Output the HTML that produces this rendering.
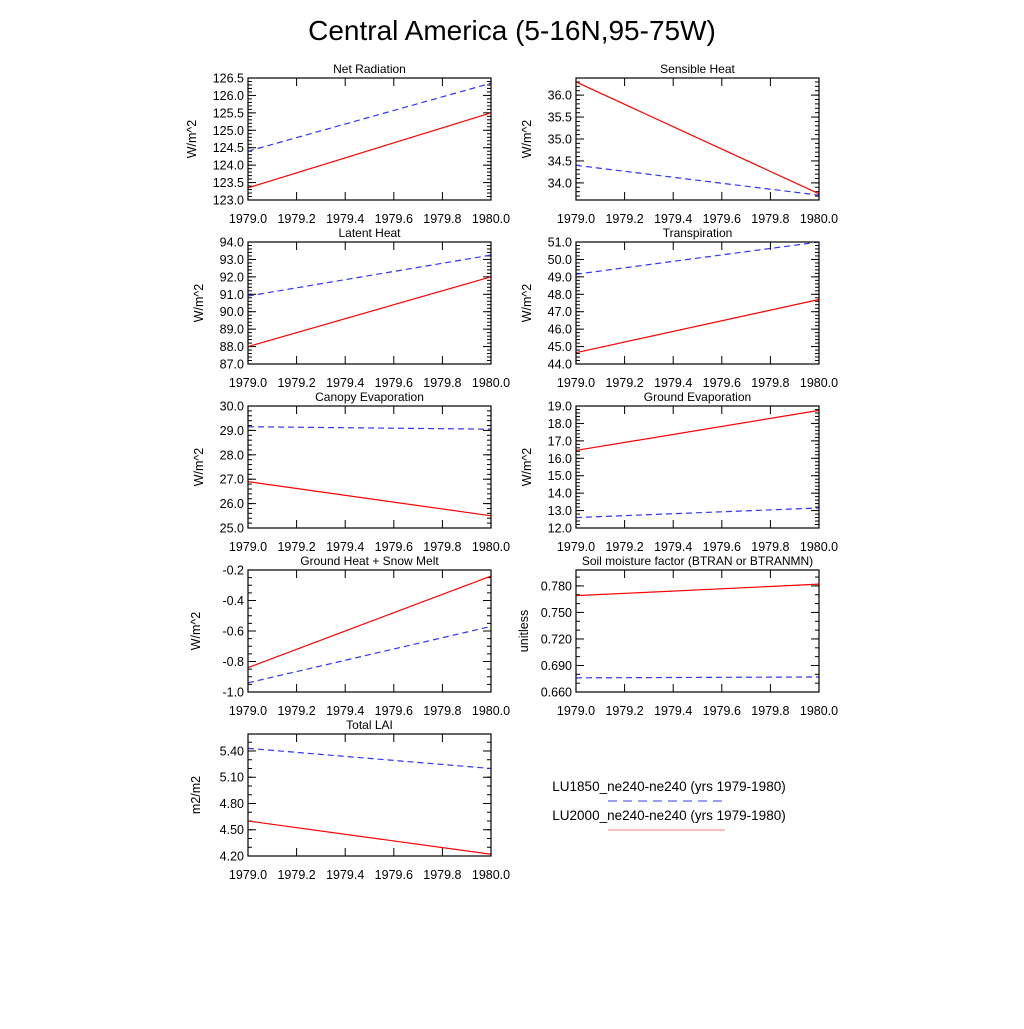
<!DOCTYPE html>
<html><head><meta charset="utf-8"><style>
body{margin:0;background:#fff}
svg{font-family:"Liberation Sans",sans-serif}
</style></head><body>
<svg id="chart" width="1024" height="1024" xmlns="http://www.w3.org/2000/svg">
<rect width="1024" height="1024" fill="#fff"/>
<text x="512" y="40" font-size="28" text-anchor="middle">Central America (5-16N,95-75W)</text>
<g>
<text x="669" y="791" font-size="13.5" text-anchor="middle">LU1850_ne240-ne240 (yrs 1979-1980)</text>
<line x1="608" y1="801" x2="726" y2="801" stroke="#3a3aff" stroke-width="1" stroke-dasharray="9,6"/>
<text x="669" y="820" font-size="13.5" text-anchor="middle">LU2000_ne240-ne240 (yrs 1979-1980)</text>
<line x1="608" y1="830" x2="725" y2="830" stroke="#f08080" stroke-width="1"/>
</g>
</svg>
<script>
const panelTitles=["Net Radiation","Sensible Heat","Latent Heat","Transpiration","Canopy Evaporation","Ground Evaporation","Ground Heat + Snow Melt","Soil moisture factor (BTRAN or BTRANMN)","Total LAI"];
const yUnits=["W/m^2","W/m^2","W/m^2","W/m^2","W/m^2","W/m^2","W/m^2","unitless","m2/m2"];
const yMins=[123.0,33.61,87,44,25,12,-1.0,0.66,4.20];
const yMaxs=[126.5,36.39,94,51,30,19,-0.2,0.798,5.594];
const yTickStart=[123.0,34.0,87,44,25,12,-1.0,0.66,4.20];
const yTickSteps=[0.5,0.5,1,1,1,1,0.2,0.03,0.3];
const yMinorSteps=[0.1,0.1,0.2,0.2,0.2,0.2,0.05,0.01,0.1];
const yDecimals=[1,1,1,1,1,1,1,3,2];
const xTickLabels=["1979.0","1979.2","1979.4","1979.6","1979.8","1980.0"];
const xValues=[1979.0,1980.0];
const lu1850Values=[[124.4,126.35],[34.4,33.72],[90.9,93.25],[49.15,51.0],[29.15,29.05],[12.6,13.15],[-0.94,-0.57],[0.676,0.677],[5.43,5.2]];
const lu2000Values=[[123.35,125.5],[36.3,33.75],[88.0,92.0],[44.65,47.7],[26.9,25.5],[16.45,18.75],[-0.84,-0.24],[0.769,0.782],[4.6,4.22]];

const NS="http://www.w3.org/2000/svg";
const svg=document.getElementById('chart');
function mk(tag,attrs,parent){const e=document.createElementNS(NS,tag);for(const k in attrs)e.setAttribute(k,attrs[k]);parent.appendChild(e);return e;}
const colX=[248,576],rowY=[78,242,406,570,734],W=243,H=122;
panelTitles.forEach((t,i)=>{
  const x0=colX[i%2],y0=rowY[Math.floor(i/2)];
  const g=mk('g',{},svg);
  
  
  const xs=v=>x0+(v-1979)/1*W;
  const ys=v=>y0+H-(v-yMins[i])/(yMaxs[i]-yMins[i])*H;
  const eps=1e-9;
  for(let v=yTickStart[i];v<=yMaxs[i]+eps;v+=yMinorSteps[i]){const y=ys(v);if(y<y0-0.5)break;mk('line',{x1:x0,y1:y,x2:x0+4,y2:y,stroke:'#000','stroke-width':1},g);mk('line',{x1:x0+W,y1:y,x2:x0+W-4,y2:y,stroke:'#000','stroke-width':1},g);}
  for(let v=yTickStart[i]-yMinorSteps[i];v>=yMins[i]-eps;v-=yMinorSteps[i]){const y=ys(v);mk('line',{x1:x0,y1:y,x2:x0+4,y2:y,stroke:'#000','stroke-width':1},g);mk('line',{x1:x0+W,y1:y,x2:x0+W-4,y2:y,stroke:'#000','stroke-width':1},g);}
  for(let v=yTickStart[i];v<=yMaxs[i]+eps;v+=yTickSteps[i]){const y=ys(v);
    mk('line',{x1:x0,y1:y,x2:x0+8,y2:y,stroke:'#000','stroke-width':1},g);
    mk('line',{x1:x0+W,y1:y,x2:x0+W-8,y2:y,stroke:'#000','stroke-width':1},g);
    const tl=mk('text',{x:x0-4,y:y+4.5,'font-size':12.5,'text-anchor':'end'},g);
    
    
    tl.textContent=(Math.abs(v)<1e-9?0:v).toFixed(yDecimals[i]);}
  xTickLabels.forEach(l=>{const x=xs(parseFloat(l));
    mk('line',{x1:x,y1:y0+H,x2:x,y2:y0+H-8,stroke:'#000','stroke-width':1},g);
    mk('line',{x1:x,y1:y0,x2:x,y2:y0+8,stroke:'#000','stroke-width':1},g);
    const tl=mk('text',{x:x,y:y0+H+23,'font-size':12.5,'text-anchor':'middle'},g);
    
    
    tl.textContent=l;});
  const p1=mk('polyline',{points:xValues.map((v,k)=>xs(v)+','+ys(lu1850Values[i][k])).join(' '),fill:'none',stroke:'#3333ff','stroke-width':1.2,'stroke-dasharray':'6,4'},g);
  
  
  const p2=mk('polyline',{points:xValues.map((v,k)=>xs(v)+','+ys(lu2000Values[i][k])).join(' '),fill:'none',stroke:'#ff0000','stroke-width':1.2},g);
  
  
  mk('rect',{x:x0,y:y0,width:W,height:H,fill:'none',stroke:'#000','stroke-width':1.2},g);
  const tt=mk('text',{x:x0+W/2,y:y0-5,'font-size':12,'text-anchor':'middle'},g);
  
  
  tt.textContent=t;
  const yl=mk('text',{x:0,y:0,'font-size':12.5,'text-anchor':'middle',transform:`translate(${x0-(yDecimals[i]===1&&yMaxs[i]>100?52:(yDecimals[i]===1&&yMaxs[i]>0?45:48))},${y0+H/2}) rotate(-90)`},g);
  
  
  yl.textContent=yUnits[i];
});
</script>
</body></html>
